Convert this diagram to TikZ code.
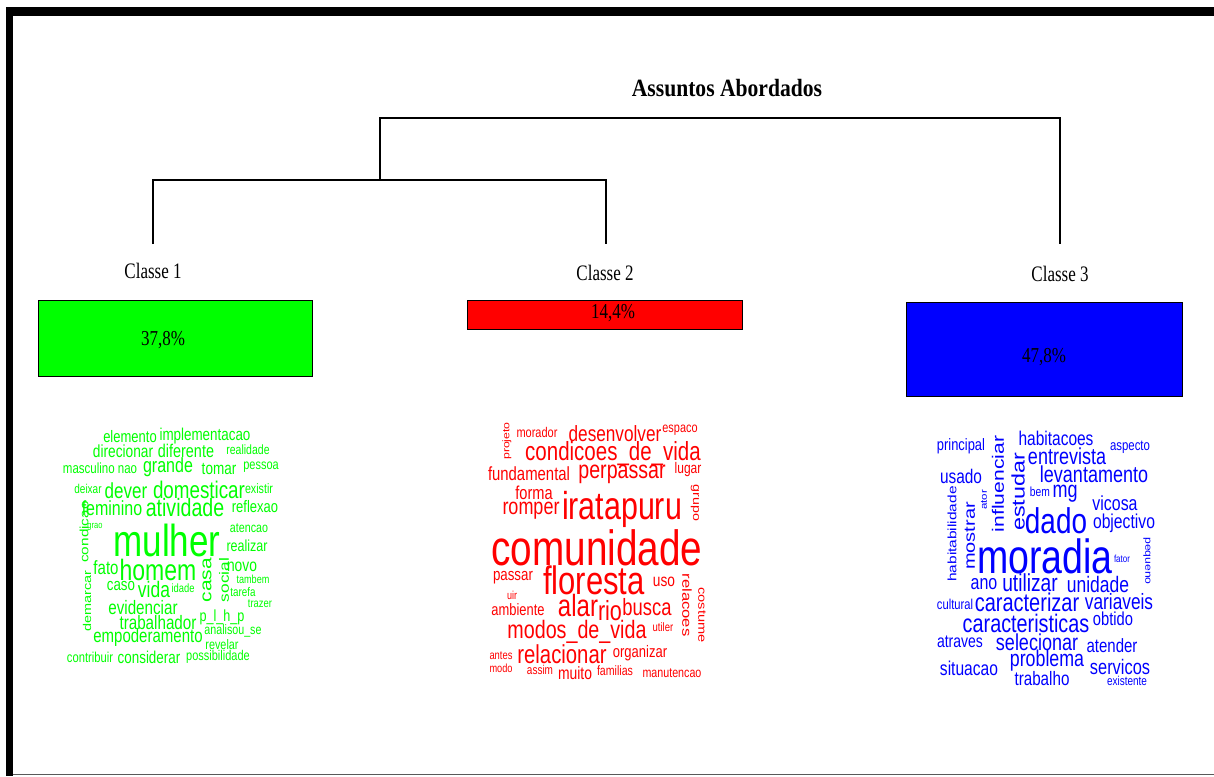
\documentclass[tikz,border=0pt]{standalone}
\usepackage{fontspec}
\setmainfont{Liberation Serif}
\newfontfamily\cloudfont{Liberation Sans}
\usepackage{graphicx}
\definecolor{cgreen}{RGB}{0,255,0}
\definecolor{cred}{RGB}{255,0,0}
\definecolor{cblue}{RGB}{0,0,255}
\newcounter{wc}
\tikzset{
  cw/.style={inner sep=0pt, outer sep=0pt, font=\cloudfont},
  dendro/.style={line width=1.3pt, black},
  classlabel/.style={inner sep=0pt},
  pctbox/.style={draw=black, line width=1pt},
}
% horizontal cloud word: colour, x, y, size, text
\newcommand\wh[5]{\stepcounter{wc}\node[cw,text=#1] (w\arabic{wc}) at (#2,#3) {\scalebox{1}[1.28]{\fontsize{#4}{#4}\selectfont #5}};}
% vertical cloud word: colour, x, y, size, text, angle
\newcommand\wv[6]{\stepcounter{wc}\node[cw,text=#1,rotate=#6] (w\arabic{wc}) at (#2,#3) {\scalebox{1.28}[1]{\fontsize{#4}{#4}\selectfont #5}};}
\begin{document}
\begin{tikzpicture}[x=1pt,y=-1pt]
\useasboundingbox (0,0) rectangle (1214,776);
\fill[white] (0,0) rectangle (1214,776);
% frame
\fill[black] (6,7) rectangle (1214,16);
\fill[black] (6,7) rectangle (13,776);
\draw[black!65, line width=1.5pt] (13,774.5) -- (1214,774.5);

% title
\node[inner sep=0pt, font=\bfseries\fontsize{21.6}{21.6}\selectfont] (title) at (727,88) {\scalebox{1}[1.15]{Assuntos Abordados}};

% dendrogram
\coordinate (n12) at (380,180);
\coordinate (top1) at (380,118);
\coordinate (top3) at (1060,118);
\coordinate (e3) at (1060,244);
\coordinate (e1) at (153,244);
\coordinate (l1) at (153,180);
\coordinate (l2) at (606,180);
\coordinate (e2) at (606,244);
\draw[dendro] (n12) -- (top1) -- (top3) -- (e3);
\draw[dendro] (e1) -- (l1) -- (l2) -- (e2);

% class labels
\node[classlabel] (c1) at (153,271) {\scalebox{1}[1.3]{\fontsize{17}{17}\selectfont Classe 1}};
\node[classlabel] (c2) at (605,273) {\scalebox{1}[1.3]{\fontsize{17}{17}\selectfont Classe 2}};
\node[classlabel] (c3) at (1060,274) {\scalebox{1}[1.3]{\fontsize{17}{17}\selectfont Classe 3}};

% boxes
\draw[pctbox, fill=cgreen] (38,300) rectangle (312,376);
\draw[pctbox, fill=cred] (467,300) rectangle (742,329);
\draw[pctbox, fill=cblue] (906,302) rectangle (1182,396);
\node[inner sep=0pt] (p1) at (163,340) {\scalebox{1}[1.25]{\fontsize{17}{17}\selectfont 37,8\%}};
\node[inner sep=0pt] (p2) at (613,313) {\scalebox{1}[1.25]{\fontsize{17}{17}\selectfont 14,4\%}};
\node[inner sep=0pt] (p3) at (1044,357) {\scalebox{1}[1.25]{\fontsize{17}{17}\selectfont 47,8\%}};

% ---------- green cloud ----------
\wh{cgreen}{130}{437}{13}{elemento}
\wh{cgreen}{205}{436}{13.4}{implementacao}
\wh{cgreen}{123}{451}{13.7}{direcionar}
\wh{cgreen}{186}{451}{14.4}{diferente}
\wh{cgreen}{248}{450}{10.5}{realidade}
\wh{cgreen}{100}{468}{11.5}{masculino nao}
\wh{cgreen}{168}{467}{16}{grande}
\wh{cgreen}{219}{469}{13.5}{tomar}
\wh{cgreen}{261}{467}{11}{pessoa}
\wh{cgreen}{88}{489}{10}{deixar}
\wh{cgreen}{126}{491}{17}{dever}
\wh{cgreen}{199}{490}{18.8}{domesticar}
\wh{cgreen}{259}{489}{10.7}{existir}
\wh{cgreen}{112}{508}{16}{feminino}
\wh{cgreen}{185}{508}{19.6}{atividade}
\wh{cgreen}{255}{507}{13}{reflexao}
\wh{cgreen}{249}{528}{10.7}{atencao}
\wh{cgreen}{95}{527}{7.5}{grao}
\wv{cgreen}{84}{532}{12}{condicao}{90}
\wh{cgreen}{167}{540}{35}{mulher}
\wh{cgreen}{247}{546}{12.5}{realizar}
\wh{cgreen}{106}{568}{15}{fato}
\wh{cgreen}{158}{570}{23}{homem}
\wv{cgreen}{207}{580}{16.4}{casa}{90}
\wv{cgreen}{224}{580}{13.5}{social}{90}
\wh{cgreen}{242}{567}{13.8}{novo}
\wh{cgreen}{253}{579}{9.1}{tambem}
\wh{cgreen}{243}{592}{9.8}{tarefa}
\wh{cgreen}{260}{604}{9.4}{trazer}
\wh{cgreen}{121}{586}{13.3}{caso}
\wh{cgreen}{154}{589}{17.5}{vida}
\wh{cgreen}{183}{588}{9.4}{idade}
\wv{cgreen}{87}{601}{11.3}{demarcar}{90}
\wh{cgreen}{143}{608}{15.2}{evidenciar}
\wh{cgreen}{222}{617}{12.6}{p\_l\_h\_p}
\wh{cgreen}{158}{623}{15.2}{trabalhador}
\wh{cgreen}{233}{631}{10.7}{analisou\_se}
\wh{cgreen}{148}{638}{15}{empoderamento}
\wh{cgreen}{222}{645}{10.8}{revelar}
\wh{cgreen}{90}{657}{11.2}{contribuir}
\wh{cgreen}{149}{657}{13.4}{considerar}
\wh{cgreen}{218}{657}{11}{possibilidade}

% ---------- red cloud ----------
\wv{cred}{507}{441}{9.6}{projeto}{90}
\wh{cred}{537}{432}{11}{morador}
\wh{cred}{615}{434}{17.2}{desenvolver}
\wh{cred}{680}{430}{10.9}{espaco}
\wh{cred}{613}{454}{20.5}{condicoes\_de\_vida}
\wh{cred}{529}{474}{14.9}{fundamental}
\wh{cred}{622}{474}{19.6}{perpassar}
\wh{cred}{688}{470}{12}{lugar}
\wh{cred}{534}{493}{14.6}{forma}
\wh{cred}{531}{511}{18}{romper}
\wh{cred}{622}{509}{30.4}{iratapuru}
\wv{cred}{695}{503}{11.1}{grupo}{-90}
\wh{cred}{597}{548}{38.7}{comunidade}
\wh{cred}{513}{578}{13.3}{passar}
\wh{cred}{594}{580}{31}{floresta}
\wh{cred}{664}{582}{13.7}{uso}
\wv{cred}{687}{605}{13}{relacoes}{-90}
\wv{cred}{702}{615}{11.4}{costume}{-90}
\wh{cred}{512}{595}{9}{uir}
\wh{cred}{518}{610}{12.9}{ambiente}
\wh{cred}{578}{606}{24}{alar}
\wh{cred}{610}{611}{21.6}{rio}
\wh{cred}{647}{607}{18.4}{busca}
\wh{cred}{577}{632}{19.7}{modos\_de\_vida}
\wh{cred}{663}{627}{9.5}{utiler}
\wh{cred}{501}{656}{9.4}{antes}
\wh{cred}{562}{654}{20.3}{relacionar}
\wh{cred}{640}{653}{13}{organizar}
\wh{cred}{501}{668}{9.2}{modo}
\wh{cred}{540}{670}{10}{assim}
\wh{cred}{575}{673}{13.9}{muito}
\wh{cred}{615}{671}{10.6}{familias}
\wh{cred}{672}{673}{10.7}{manutencao}

% ---------- blue cloud ----------
\wh{cblue}{961}{446}{12.9}{principal}
\wv{cblue}{998}{484}{16.5}{influenciar}{90}
\wh{cblue}{1056}{438}{15.5}{habitacoes}
\wh{cblue}{1130}{447}{11.4}{aspecto}
\wv{cblue}{1018}{492}{18.2}{estudar}{90}
\wh{cblue}{1067}{456}{18}{entrevista}
\wh{cblue}{961}{476}{15.4}{usado}
\wh{cblue}{1094}{474}{18}{levantamento}
\wv{cblue}{952}{534}{12.1}{habitabilidade}{90}
\wv{cblue}{970}{536}{15.6}{mostrar}{90}
\wv{cblue}{984}{500}{9}{ator}{90}
\wh{cblue}{1040}{492}{10.3}{bem}
\wh{cblue}{1065}{494}{18}{mg}
\wh{cblue}{1115}{503}{15.9}{vicosa}
\wh{cblue}{1056}{521}{27.9}{dado}
\wh{cblue}{1124}{523}{15.7}{objectivo}
\wh{cblue}{1045}{556}{37.5}{moradia}
\wh{cblue}{1122}{559}{8}{fator}
\wv{cblue}{1147}{561}{9.5}{pequeno}{-90}
\wh{cblue}{984}{584}{16}{ano}
\wh{cblue}{1030}{583}{19.2}{utilizar}
\wh{cblue}{1098}{584}{17.5}{unidade}
\wh{cblue}{955}{604}{11.2}{cultural}
\wh{cblue}{1027}{602}{20}{caracterizar}
\wh{cblue}{1119}{602}{17.3}{variaveis}
\wh{cblue}{1026}{623}{19.8}{caracteristicas}
\wh{cblue}{1113}{619}{14.7}{obtido}
\wh{cblue}{960}{642}{14}{atraves}
\wh{cblue}{1037}{642}{18}{selecionar}
\wh{cblue}{1112}{646}{15}{atender}
\wh{cblue}{969}{668}{15.6}{situacao}
\wh{cblue}{1047}{661}{17.8}{problema}
\wh{cblue}{1120}{667}{16.4}{servicos}
\wh{cblue}{1042}{679}{15.2}{trabalho}
\wh{cblue}{1127}{681}{10}{existente}
\end{tikzpicture}
\end{document}
